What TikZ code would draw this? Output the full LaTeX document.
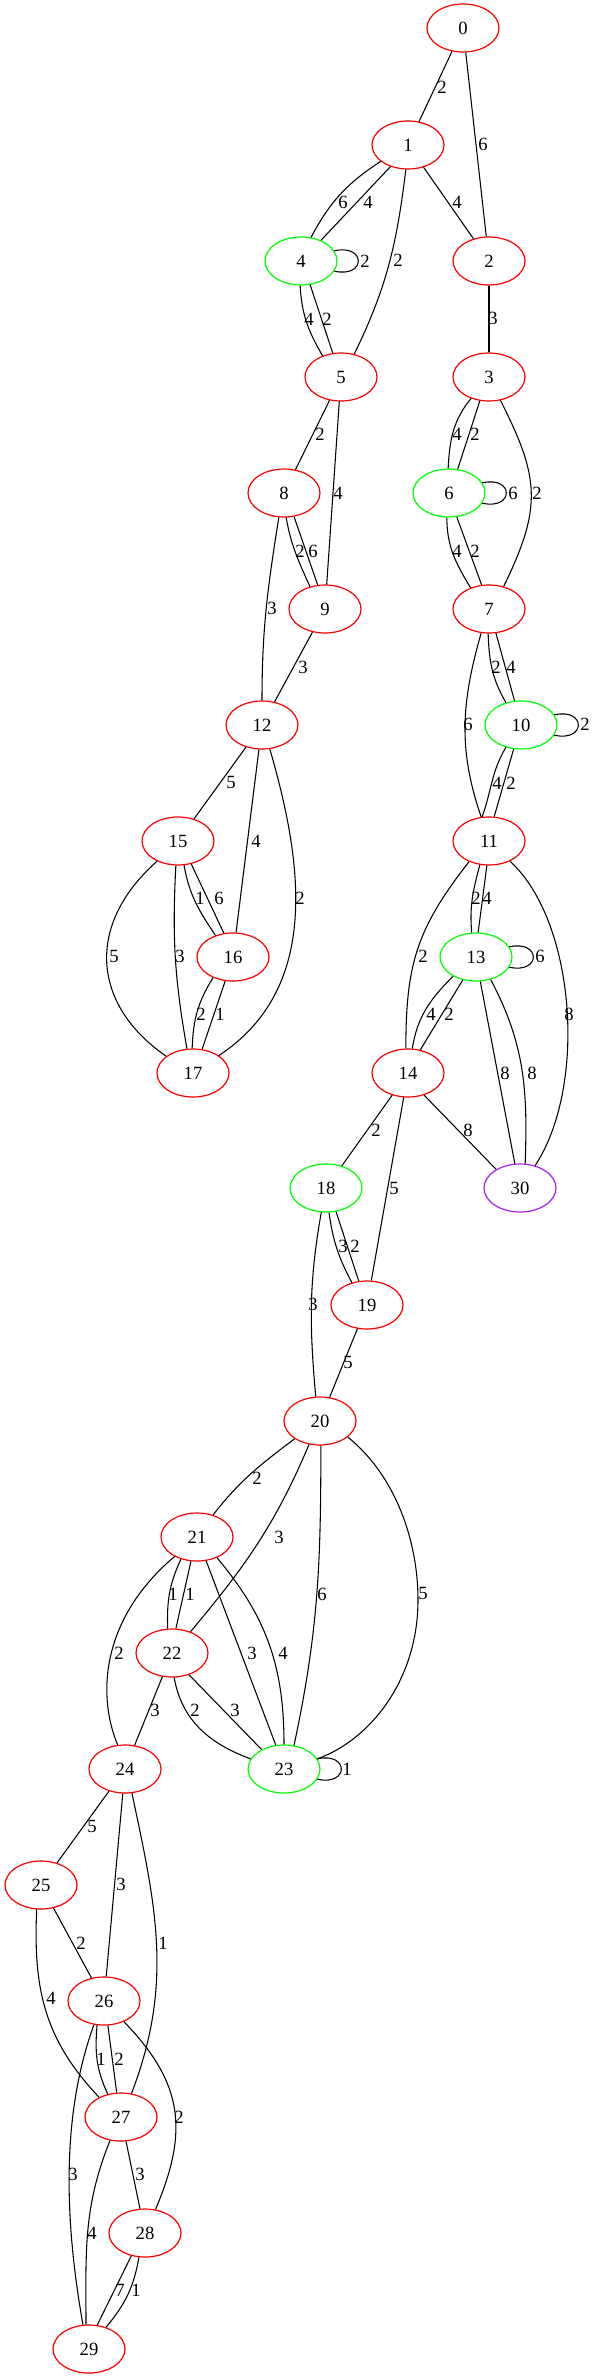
\documentclass[tikz,border=0pt]{standalone}
\usepackage{fontspec}
\setmainfont{Liberation Serif}
\usetikzlibrary{shapes.geometric}
\definecolor{gvred}{RGB}{255,0,0}
\definecolor{gvgreen}{RGB}{0,255,0}
\definecolor{gvpurple}{RGB}{160,32,240}
\newcommand\gvfont{\fontsize{14pt}{16pt}\selectfont}
\tikzset{
  vx/.style={ellipse, draw, line width=0.9pt, minimum width=54pt, minimum height=36pt, inner sep=0pt, font=\gvfont},
  vr/.style={vx, draw=gvred},
  vg/.style={vx, draw=gvgreen},
  vp/.style={vx, draw=gvpurple},
  ed/.style={line width=0.8pt, black},
  lb/.style={inner sep=0pt, font=\gvfont}
}
\begin{document}
\begin{tikzpicture}[x=0.75pt,y=0.75pt]
\useasboundingbox (0,0) rectangle (596,-2379);
% nodes
\node[vr] (n0) at (463,-28) {0};
\node[vr] (n1) at (408,-145) {1};
\node[vr] (n2) at (489,-261) {2};
\node[vr] (n3) at (489,-377) {3};
\node[vg] (n4) at (301,-261) {4};
\node[vr] (n5) at (341,-377) {5};
\node[vg] (n6) at (449,-493) {6};
\node[vr] (n7) at (489,-609) {7};
\node[vr] (n8) at (284,-493) {8};
\node[vr] (n9) at (325,-609) {9};
\node[vg] (n10) at (521,-725) {10};
\node[vr] (n11) at (489,-841) {11};
\node[vr] (n12) at (262,-725) {12};
\node[vg] (n13) at (476,-957) {13};
\node[vr] (n14) at (408,-1073) {14};
\node[vr] (n15) at (178,-841) {15};
\node[vr] (n16) at (233,-957) {16};
\node[vr] (n17) at (193,-1073) {17};
\node[vg] (n18) at (326,-1188) {18};
\node[vr] (n19) at (367,-1305) {19};
\node[vr] (n20) at (320,-1421) {20};
\node[vr] (n21) at (197,-1537) {21};
\node[vr] (n22) at (172,-1653) {22};
\node[vg] (n23) at (284,-1769) {23};
\node[vr] (n24) at (125,-1769) {24};
\node[vr] (n25) at (41,-1885) {25};
\node[vr] (n26) at (104,-2001) {26};
\node[vr] (n27) at (121,-2117) {27};
\node[vr] (n28) at (145,-2233) {28};
\node[vr] (n29) at (89,-2349) {29};
\node[vp] (n30) at (520,-1188) {30};
% edges
\draw[ed] (n0) -- (n1);
\draw[ed] (n0) -- (n2);
\draw[ed] (n1.-149) to[out=-147,in=62] (n4.67);
\draw[ed] (n1.-129) -- (n4.46);
\draw[ed] (n1.-95) to[out=-97,in=64] (n5.60);
\draw[ed] (n1) -- (n2);
\draw[ed] (n4.17) .. controls +(32,7) and +(32,-7) .. (n4.-17);
\draw[ed] (n4.-92) to[out=-87,in=120] (n5.131);
\draw[ed] (n4.-69) -- (n5.109);
\draw[ed] (n2) -- (n3);
\draw[ed] (n5) -- (n8);
\draw[ed] (n5) -- (n9);
\draw[ed] (n3.-130) to[out=-129,in=87] (n6.92);
\draw[ed] (n3.-111) -- (n6.70);
\draw[ed] (n3.-64) to[out=-63,in=64,looseness=1.2] (n7.57);
\draw[ed] (n6.17) .. controls +(32,7) and +(32,-7) .. (n6.-17);
\draw[ed] (n8.-85) to[out=-80,in=114] (n9.124);
\draw[ed] (n8.-67) -- (n9.107);
\draw[ed] (n8.-102) to[out=-99,in=90] (n12.90);
\draw[ed] (n6.-95) to[out=-90,in=121] (n7.131);
\draw[ed] (n6.-72) -- (n7.107);
\draw[ed] (n9) -- (n12);
\draw[ed] (n7.-92) to[out=-88,in=120] (n10.124);
\draw[ed] (n7.-74) -- (n10.105);
\draw[ed] (n7.-108) to[out=-106,in=109] (n11.108);
\draw[ed] (n10.17) .. controls +(32,7) and +(32,-7) .. (n10.-17);
\draw[ed] (n12) -- (n15);
\draw[ed] (n12) -- (n16);
\draw[ed] (n12.-72) .. controls (305,-870) and (318,-990) .. (n17.34);
\draw[ed] (n10.-124) to[out=-121,in=70] (n11.106);
\draw[ed] (n10.-107) -- (n11.78);
\draw[ed] (n15.-76) to[out=-80,in=124] (n16.129);
\draw[ed] (n15.-60) -- (n16.111);
\draw[ed] (n15.-136) .. controls (85,-925) and (92,-1005) .. (n17.148);
\draw[ed] (n15.-95) to[out=-93,in=100] (n17.104);
\draw[ed] (n16.-134) to[out=-122,in=88] (n17.92);
\draw[ed] (n16.-108) -- (n17.69);
\draw[ed] (n11.-111) to[out=-105,in=95] (n13.100);
\draw[ed] (n11.-95) -- (n13.85);
\draw[ed] (n11.-134) to[out=-128,in=90,looseness=1.1] (n14.95);
\draw[ed] (n11.-44) .. controls (575,-920) and (588,-1085) .. (n30.56);
\draw[ed] (n13.17) .. controls +(32,7) and +(32,-7) .. (n13.-17);
\draw[ed] (n13.-140) to[out=-135,in=81] (n14.80);
\draw[ed] (n13.-120) -- (n14.62);
\draw[ed] (n13.-80) -- (n30.102);
\draw[ed] (n13.-57) to[out=-62,in=88] (n30.78);
\draw[ed] (n14) -- (n18);
\draw[ed] (n14) -- (n19);
\draw[ed] (n14.-54) -- (n30.142);
\draw[ed] (n18.-83) to[out=-82,in=118] (n19.124);
\draw[ed] (n18.-67) -- (n19.109);
\draw[ed] (n18.-101) to[out=-100,in=95] (n20.100);
\draw[ed] (n19) -- (n20);
\draw[ed] (n20.-145) to[out=-143,in=52] (n21.54);
\draw[ed] (n20.-115) to[out=-113,in=50] (n22.49);
\draw[ed] (n20.-88) to[out=-90,in=78] (n23.67);
\draw[ed] (n20.-30) .. controls (395,-1475) and (418,-1540) .. (418,-1600) .. controls (418,-1680) and (370,-1740) .. (n23.17);
\draw[ed] (n21.-139) .. controls (105,-1615) and (95,-1690) .. (n24.107);
\draw[ed] (n21.-126) to[out=-115,in=92] (n22.100);
\draw[ed] (n21.-104) -- (n22.81);
\draw[ed] (n21.-69) -- (n23.109);
\draw[ed] (n21.-46) to[out=-50,in=90] (n23.90);
\draw[ed] (n22) -- (n24);
\draw[ed] (n22.-85) to[out=-80,in=160] (n23.163);
\draw[ed] (n22.-52) -- (n23.139);
\draw[ed] (n23.17) .. controls +(32,7) and +(32,-7) .. (n23.-17);
\draw[ed] (n24) -- (n25);
\draw[ed] (n24) -- (n26);
\draw[ed] (n24.-74) to[out=-78,in=69] (n27.66);
\draw[ed] (n25) -- (n26);
\draw[ed] (n25.-100) .. controls (33,-1990) and (45,-2040) .. (n27.138);
\draw[ed] (n26.-106) to[out=-95,in=115] (n27.120);
\draw[ed] (n26.-81) -- (n27.100);
\draw[ed] (n26.-113) to[out=-110,in=100,looseness=0.85] (n29.104);
\draw[ed] (n26.-46) to[out=-46,in=67,looseness=1.15] (n28.66);
\draw[ed] (n27.-115) to[out=-112,in=90] (n29.97);
\draw[ed] (n27) -- (n28);
\draw[ed] (n28.-121) -- (n29.71);
\draw[ed] (n28.-104) to[out=-100,in=50] (n29.52);
% labels
\node[lb] (l1) at (442,-87) {2};
\node[lb] (l2) at (483,-144) {6};
\node[lb] (l3) at (343,-202) {6};
\node[lb] (l4) at (368,-202) {4};
\node[lb] (l5) at (398,-260) {2};
\node[lb] (l6) at (457,-202) {4};
\node[lb] (l7) at (365,-261) {2};
\node[lb] (l8) at (309,-319) {4};
\node[lb] (l9) at (327,-319) {2};
\node[lb] (l10) at (493,-318) {3};
\node[lb] (l11) at (320,-434) {2};
\node[lb] (l12) at (338,-493) {4};
\node[lb] (l13) at (457,-434) {4};
\node[lb] (l14) at (475,-434) {2};
\node[lb] (l15) at (537,-493) {2};
\node[lb] (l16) at (513,-493) {6};
\node[lb] (l17) at (300,-551) {2};
\node[lb] (l18) at (313,-551) {6};
\node[lb] (l19) at (272,-608) {3};
\node[lb] (l20) at (457,-551) {4};
\node[lb] (l21) at (475,-551) {2};
\node[lb] (l22) at (303,-667) {3};
\node[lb] (l23) at (496,-667) {2};
\node[lb] (l24) at (511,-667) {4};
\node[lb] (l25) at (468,-724) {6};
\node[lb] (l26) at (585,-724) {2};
\node[lb] (l27) at (231,-782) {5};
\node[lb] (l28) at (256,-841) {4};
\node[lb] (l29) at (300,-898) {2};
\node[lb] (l30) at (497,-783) {4};
\node[lb] (l31) at (511,-783) {2};
\node[lb] (l32) at (200,-898) {1};
\node[lb] (l33) at (219,-898) {6};
\node[lb] (l34) at (114,-956) {5};
\node[lb] (l35) at (180,-956) {3};
\node[lb] (l36) at (201,-1014) {2};
\node[lb] (l37) at (220,-1014) {1};
\node[lb] (l38) at (476,-898) {2};
\node[lb] (l39) at (487,-898) {4};
\node[lb] (l40) at (423,-956) {2};
\node[lb] (l41) at (569,-1014) {8};
\node[lb] (l42) at (540,-956) {6};
\node[lb] (l43) at (431,-1014) {4};
\node[lb] (l44) at (449,-1014) {2};
\node[lb] (l45) at (505,-1073) {8};
\node[lb] (l46) at (532,-1073) {8};
\node[lb] (l47) at (376,-1130) {2};
\node[lb] (l48) at (394,-1188) {5};
\node[lb] (l49) at (468,-1130) {8};
\node[lb] (l50) at (343,-1246) {3};
\node[lb] (l51) at (355,-1246) {2};
\node[lb] (l52) at (313,-1304) {3};
\node[lb] (l53) at (348,-1362) {5};
\node[lb] (l54) at (257,-1478) {2};
\node[lb] (l55) at (279,-1537) {3};
\node[lb] (l56) at (322,-1594) {6};
\node[lb] (l57) at (423,-1593) {5};
\node[lb] (l58) at (119,-1653) {2};
\node[lb] (l59) at (173,-1594) {1};
\node[lb] (l60) at (190,-1594) {1};
\node[lb] (l61) at (252,-1653) {3};
\node[lb] (l62) at (283,-1653) {4};
\node[lb] (l63) at (155,-1710) {3};
\node[lb] (l64) at (195,-1710) {2};
\node[lb] (l65) at (235,-1710) {3};
\node[lb] (l66) at (347,-1769) {1};
\node[lb] (l67) at (92,-1826) {5};
\node[lb] (l68) at (121,-1884) {3};
\node[lb] (l69) at (163,-1943) {1};
\node[lb] (l70) at (81,-1943) {2};
\node[lb] (l71) at (51,-1998) {4};
\node[lb] (l72) at (101,-2059) {1};
\node[lb] (l73) at (119,-2059) {2};
\node[lb] (l74) at (73,-2174) {3};
\node[lb] (l75) at (179,-2117) {2};
\node[lb] (l76) at (92,-2233) {4};
\node[lb] (l77) at (140,-2174) {3};
\node[lb] (l78) at (120,-2290) {7};
\node[lb] (l79) at (136,-2290) {1};
\end{tikzpicture}
\end{document}
